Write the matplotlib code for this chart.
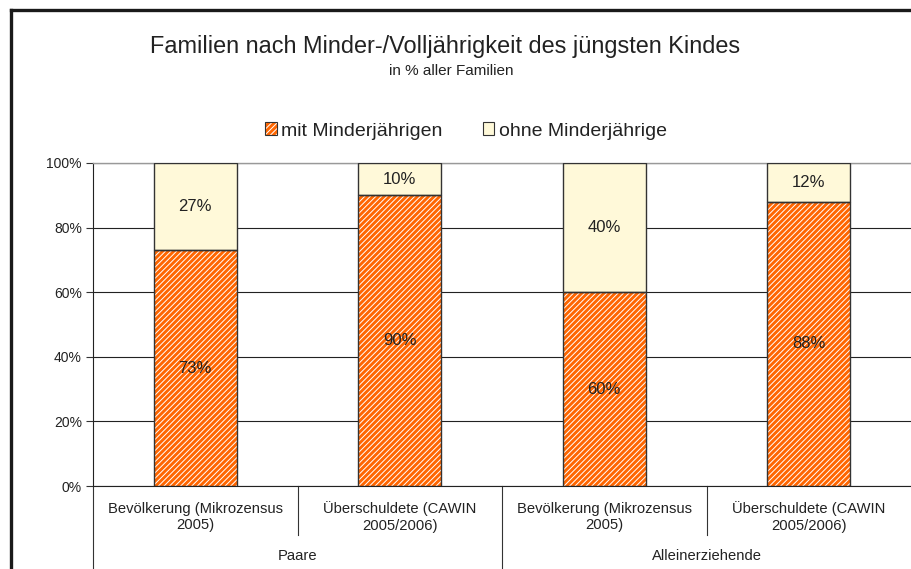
import matplotlib
matplotlib.use("Agg")
from matplotlib import pyplot as plt
from matplotlib.lines import Line2D
from matplotlib.patches import Patch
from matplotlib.legend_handler import HandlerTuple
import matplotlib.transforms as mtransforms

plt.rcParams['font.family'] = ['Liberation Sans', 'DejaVu Sans']
plt.rcParams['hatch.linewidth'] = 0.7

categories = ["Bevölkerung (Mikrozensus\n2005)", "Überschuldete (CAWIN\n2005/2006)",
              "Bevölkerung (Mikrozensus\n2005)", "Überschuldete (CAWIN\n2005/2006)"]
groups = ["Paare", "Alleinerziehende"]
mit_minderj = [73, 90, 60, 88]
ohne_minderj = [27, 10, 40, 12]
series_names = ["mit Minderjährigen", "ohne Minderjährige"]

orange = "#FF6600"
cream = "#FFF9D9"
edge = "#333333"
text_col = "#222222"

fig = plt.figure(figsize=(9.11, 5.69), dpi=100)
ax = fig.add_axes([93 / 911, 1 - 486 / 569, 818 / 911, 323 / 569])

x = list(range(len(categories)))
width = 0.405

# hatched lower part: white hatch on orange, then dark outline on top
ax.bar(x, mit_minderj, width, color=orange, edgecolor="white", hatch="//////",
       linewidth=0, zorder=3)
ax.bar(x, mit_minderj, width, fill=False, edgecolor=edge, linewidth=1.0, zorder=4)
ax.bar(x, ohne_minderj, width, bottom=mit_minderj, color=cream, edgecolor=edge,
       linewidth=1.0, zorder=3)

for xi, m, o in zip(x, mit_minderj, ohne_minderj):
    ax.text(xi, m / 2, f"{m}%", ha="center", va="center", fontsize=12,
            color=text_col, zorder=5)
    ax.text(xi, m + o / 2, f"{o}%", ha="center", va="center", fontsize=12,
            color=text_col, zorder=5)

ax.set_xlim(-0.5, 3.5)
ax.set_ylim(0, 100)
ax.set_yticks([0, 20, 40, 60, 80, 100])
ax.set_yticklabels([f"{v}%" for v in [0, 20, 40, 60, 80, 100]])
ax.tick_params(axis="y", direction="out", length=5, width=0.8, colors="#333333",
               labelsize=10, labelcolor=text_col, pad=3)
ax.set_xticks([])
ax.yaxis.grid(True, color="#222222", linewidth=0.8)
ax.set_axisbelow(True)

ax.spines["right"].set_visible(False)
ax.spines["top"].set_color("#999999")
ax.spines["top"].set_linewidth(1.0)
for side in ["left", "bottom"]:
    ax.spines[side].set_color("#222222")
    ax.spines[side].set_linewidth(0.8)

# two-level category axis
trans = mtransforms.blended_transform_factory(ax.transData, ax.transAxes)
for sx in [0.5, 2.5]:
    ax.plot([sx, sx], [0, -49 / 323], transform=trans, color="#333333",
            lw=0.8, clip_on=False)
for gx in [-0.5, 1.5]:
    ax.plot([gx, gx], [0, -90 / 323], transform=trans, color="#333333",
            lw=0.8, clip_on=False)
for xi, lab in zip(x, categories):
    ax.text(xi, -31 / 323, lab, transform=trans, ha="center", va="center",
            fontsize=10.6, color=text_col, linespacing=1.25)
for gi, g in enumerate(groups):
    ax.text(gi * 2 + 0.5, -70 / 323, g, transform=trans, ha="center",
            va="center", fontsize=10.6, color=text_col)

# title
fig.text(445 / 911, 1 - 47 / 569, "Familien nach Minder-/Volljährigkeit des jüngsten Kindes",
         ha="center", va="center", fontsize=16.9, color=text_col)
fig.text(451 / 911, 1 - 71 / 569, "in % aller Familien", ha="center",
         va="center", fontsize=11, color=text_col)

# legend
h_mit = (Patch(facecolor=orange, edgecolor="white", hatch="//////", linewidth=0),
         Patch(fill=False, edgecolor=edge, linewidth=0.8))
h_ohne = Patch(facecolor=cream, edgecolor=edge, linewidth=0.8)
fig.legend([h_mit, h_ohne], series_names, loc="center",
           bbox_to_anchor=(466 / 911, 1 - 131 / 569), ncol=2, frameon=False,
           fontsize=14, handlelength=0.6, handleheight=0.6, handletextpad=0.25,
           columnspacing=2.04, labelcolor=text_col,
           handler_map={tuple: HandlerTuple(ndivide=1)})

# outer frame (left and top edge of chart area)
fig.add_artist(Line2D([11 / 911, 11 / 911], [0, 1 - 10 / 569], color="#1a1a1a",
                      lw=2.4, solid_capstyle="projecting"))
fig.add_artist(Line2D([11 / 911, 1], [1 - 10 / 569, 1 - 10 / 569], color="#1a1a1a",
                      lw=2.4, solid_capstyle="projecting"))

fig.savefig("out.png", dpi=100)
